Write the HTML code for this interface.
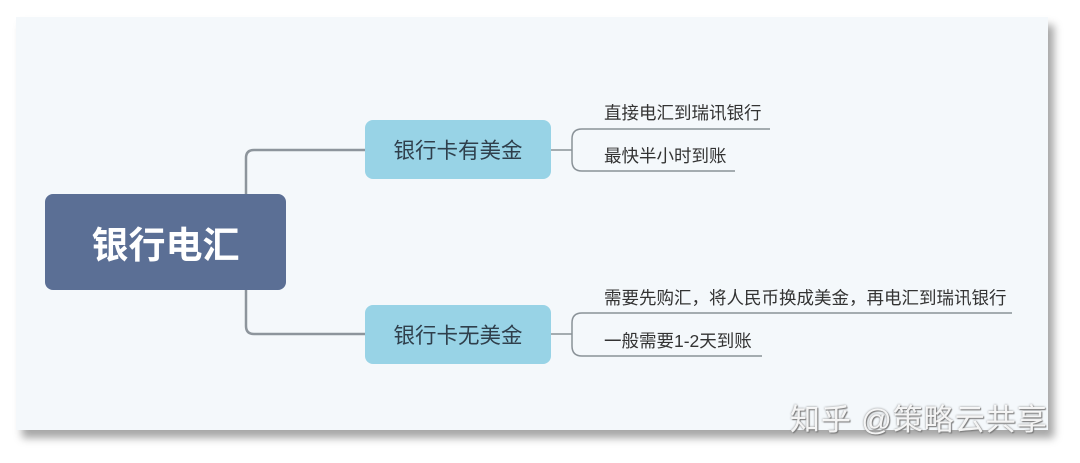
<!DOCTYPE html>
<html><head><meta charset="utf-8"><style>
body{margin:0;width:1080px;height:463px;background:#fff;position:relative;overflow:hidden;font-family:"Liberation Sans","Noto Sans CJK SC",sans-serif}
.card{position:absolute;left:16px;top:17px;width:1032px;height:413px;background:#f4f8fb;box-shadow:6px 8px 8px rgba(0,0,0,0.35)}
.root{position:absolute;left:45px;top:194px;width:241px;height:96px;background:#5b6f95;border-radius:8px;color:#fff;font-size:37px;font-weight:bold;display:flex;align-items:center;justify-content:center;letter-spacing:0px}
.br{position:absolute;left:365px;width:186px;height:59px;background:#98d3e6;border-radius:8px;color:#2f3f4c;font-size:21.5px;display:flex;align-items:center;justify-content:center}
.t{position:absolute;left:604px;font-size:17.5px;color:#333}
.wm{position:absolute;left:790px;top:395px;font-size:30px;color:rgba(255,255,255,0.9);text-shadow:0 0 2px #888,1px 1px 1px #777;letter-spacing:1px}
</style></head><body>
<div class="card"></div>
<svg width="1080" height="463" style="position:absolute;left:0;top:0" fill="none" stroke="#8d959c" stroke-width="2.5">
<path d="M246 194 V158 Q246 150 254 150 H365"/>
<path d="M246 290 V326 Q246 334 254 334 H365"/>
<g stroke-width="1.5" stroke="#8a9298">
<path d="M551 150 H572"/>
<path d="M770 129 H582 Q572 129 572 139 V161 Q572 171 582 171 H735"/>
<path d="M551 334 H572"/>
<path d="M1012 313 H582 Q572 313 572 323 V346 Q572 356 582 356 H762"/>
</g>
</svg>
<div class="root">银行电汇</div>
<div class="br" style="top:120px">银行卡有美金</div>
<div class="br" style="top:305px">银行卡无美金</div>
<div class="t" style="top:100px">直接电汇到瑞讯银行</div>
<div class="t" style="top:143px">最快半小时到账</div>
<div class="t" style="top:285px">需要先购汇，将人民币换成美金，再电汇到瑞讯银行</div>
<div class="t" style="top:328px">一般需要1-2天到账</div>
<div class="wm">知乎 @策略云共享</div>
</body></html>
